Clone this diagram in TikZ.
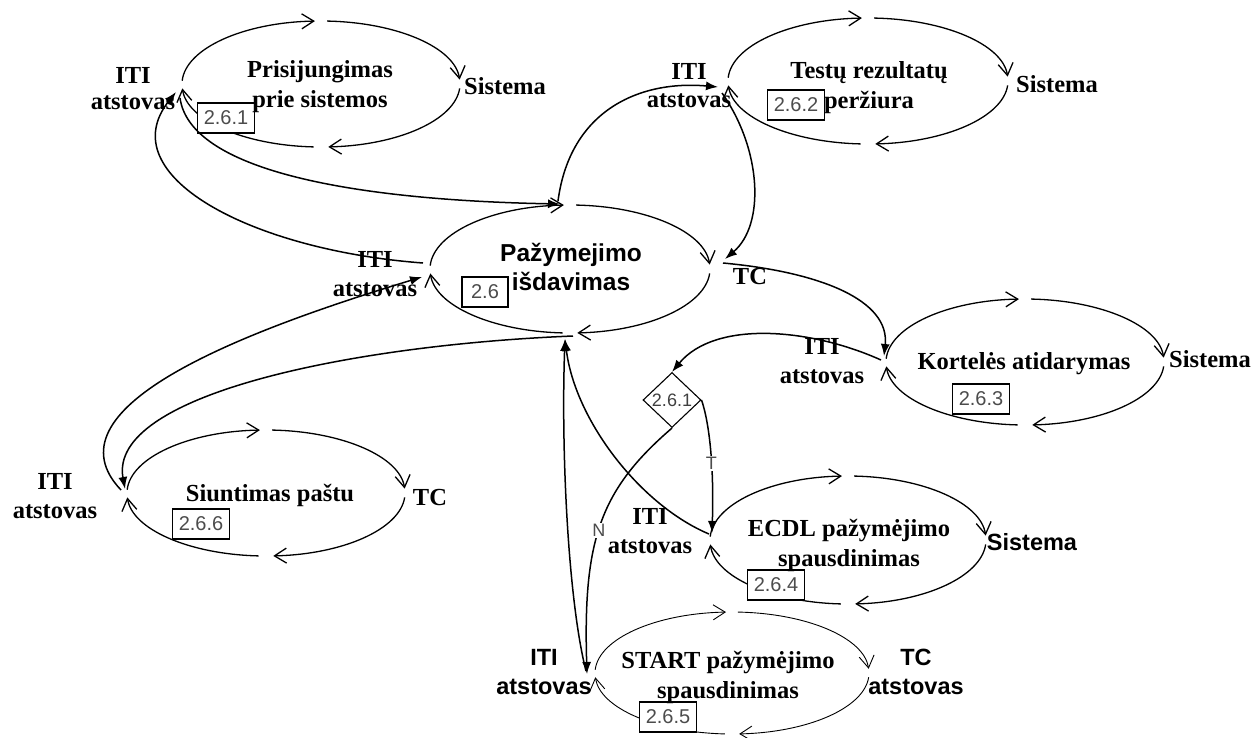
\documentclass[tikz,border=0pt]{standalone}
\usepackage{fontspec}
\setmainfont{Liberation Serif}
\setsansfont{Liberation Sans}
\usetikzlibrary{arrows.meta,shapes.geometric,calc}

% One use case, drawn as a clockwise cycle of four quarter arcs.
% [#1] extra style, #2 name, #3 cx, #4 cy, #5 x radius, #6 y radius
\newcommand{\usecasecycle}[6][]{%
  \coordinate (#2) at (#3,#4);
  \draw[cyc,#1] ($(#2)+(177:#5pt and #6pt)$) arc[start angle=177, end angle=92.5, x radius=#5pt, y radius=#6pt];
  \draw[cyc,#1] ($(#2)+(87.5:#5pt and #6pt)$) arc[start angle=87.5, end angle=4, x radius=#5pt, y radius=#6pt];
  \draw[cyc,#1] ($(#2)+(-4:#5pt and #6pt)$) arc[start angle=-4, end angle=-87, x radius=#5pt, y radius=#6pt];
  \draw[cyc,#1] ($(#2)+(-93:#5pt and #6pt)$) arc[start angle=-93, end angle=-176, x radius=#5pt, y radius=#6pt];
}

\begin{document}
\begin{tikzpicture}[x=1pt,y=-1pt,
  cyc/.style={line width=1.3pt,-{Straight Barb[length=12pt,width=15pt]}},
  conn/.style={line width=1.5pt,-{Latex[length=12pt,width=9pt]}},
  actor/.style={font=\fontsize{24.5}{29}\selectfont\bfseries,align=center,inner sep=0pt},
  sactor/.style={font=\fontsize{23.5}{29}\selectfont\sffamily\bfseries,align=center,inner sep=0pt},
  title/.style={font=\fontsize{24.5}{30}\selectfont\bfseries,align=center,inner sep=0pt},
  num/.style={draw,line width=1.4pt,fill=white,font=\fontsize{20}{20}\selectfont\sffamily,text=black!70,minimum width=57pt,minimum height=30pt,inner sep=0pt},
  guard/.style={font=\fontsize{18}{18}\selectfont\sffamily,text=black!70,fill=white,inner sep=1.5pt},
]
\useasboundingbox (0,0) rectangle (1254,737);

% use cases
\usecasecycle{ucA}{321}{84}{139}{63}
\usecasecycle{ucB}{868}{81}{140}{63}
\usecasecycle{ucC}{570}{269}{140}{64}
\usecasecycle{ucD}{1025}{362}{139}{63}
\usecasecycle{ucE}{266}{493}{139}{63}
\usecasecycle{ucF}{848}{540}{138}{64}
\usecasecycle[line width=0.9pt]{ucG}{732}{673}{137}{61}

% use case numbers
\node[num] (nA) at (226,118) {2.6.1};
\node[num] (nB) at (796,105) {2.6.2};
\node[num,minimum width=46pt] (nC) at (485,292) {2.6};
\node[num] (nD) at (981,399) {2.6.3};
\node[num] (nE) at (201,524) {2.6.6};
\node[num] (nF) at (776,585) {2.6.4};
\node[num] (nG) at (668,717) {2.6.5};

% use case titles
\node[title] (tA) at (320,87) {Prisijungimas\\prie sistemos};
\node[title] (tB) at (869,88) {Testų rezultatų\\peržiura};
\node[title,font=\fontsize{24.5}{29}\selectfont\sffamily\bfseries] (tC) at (571,267) {Pažymejimo\\išdavimas};
\node[title,anchor=base] (tD) at (1024,369) {Kortelės atidarymas};
\node[title,anchor=base] (tE) at (270,501) {Siuntimas paštu};
\node[title] (tF) at (849,545) {ECDL pažymėjimo\\spausdinimas};
\node[title] (tG) at (728,677) {START pažymėjimo\\spausdinimas};

% actors
\node[actor,font=\fontsize{24.5}{26}\selectfont\bfseries] (aA) at (133,89) {ITI\\atstovas};
\node[actor,font=\fontsize{24.5}{28}\selectfont\bfseries] (aB) at (689,86) {ITI\\atstovas};
\node[actor] (aC) at (375,274) {ITI\\atstovas};
\node[actor] (aD) at (822,361) {ITI\\atstovas};
\node[actor] (aE) at (55,496) {ITI\\atstovas};
\node[actor] (aF) at (650,531) {ITI\\atstovas};
\node[sactor] (aG) at (544,672) {ITI\\atstovas};
\node[sactor] (sG) at (916,672) {TC\\atstovas};
\node[actor,anchor=base] (sA) at (505,94) {Sistema};
\node[actor,anchor=base] (sB) at (1057,92) {Sistema};
\node[actor,anchor=base] (sC) at (750,284) {TC};
\node[actor,anchor=base] (sD) at (1210,367) {Sistema};
\node[actor,anchor=base] (sE) at (430,505) {TC};
\node[sactor,anchor=base] (sF) at (1032,550) {Sistema};

% decision
\node[diamond,draw,line width=1.1pt,minimum width=58pt,minimum height=55pt,inner sep=0pt] (dec) at (672,400) {};
\node[font=\fontsize{18}{18}\selectfont\sffamily,text=black!75,inner sep=0pt] (decn) at (dec.center) {2.6.1};

% connection points
\coordinate (cCl) at (423,263);
\coordinate (cAin) at (176,92);
\coordinate (cAout) at (180,98);
\coordinate (cCtin) at (560,204);
\coordinate (cCtout) at (558,201);
\coordinate (cBin) at (718,87);
\coordinate (cBout) at (722,93);
\coordinate (cCrin) at (725,259);
\coordinate (cCrout) at (723,263);
\coordinate (cDin) at (884,356);
\coordinate (cDout) at (881,360);
\coordinate (cFin) at (712,533);
\coordinate (cFout) at (709,534);
\coordinate (cGin) at (587,674);
\coordinate (cGout) at (586,671);
\coordinate (cCbin) at (565,339);
\coordinate (cCbout) at (573,336);
\coordinate (cEin) at (125,489);
\coordinate (cEout) at (121,490);
\coordinate (cClin) at (422,277);

% flows between use cases
\draw[conn] (cCl) .. controls (250,250) and (110,175) .. (cAin);
\draw[conn] (cAout) .. controls (190,170) and (350,200) .. (cCtin);
\draw[conn] (cCtout) .. controls (570,110) and (640,80) .. (cBin);
\draw[conn] (cBout) .. controls (762,150) and (765,225) .. (cCrin);
\draw[conn] (cCrout) .. controls (820,272) and (890,300) .. (cDin);
\draw[conn] (cDout) .. controls (810,328) and (715,320) .. (dec.north);
\draw[conn] (dec.east) .. controls (710,425) and (714,470) .. node[guard,pos=0.58] (gT) {T} (cFin);
\draw[conn] (dec.south) .. controls (600,490) and (583,540) .. node[guard,pos=0.53] (gN) {N} (cGin);
\draw[conn] (cFout) .. controls (640,505) and (575,420) .. (cCbin);
\draw[conn] (cGout) .. controls (568,600) and (561,450) .. (cCbin);
\draw[conn] (cCbout) .. controls (350,345) and (108,395) .. (cEin);
\draw[conn] (cEout) .. controls (45,410) and (230,335) .. (cClin);
\end{tikzpicture}
\end{document}
